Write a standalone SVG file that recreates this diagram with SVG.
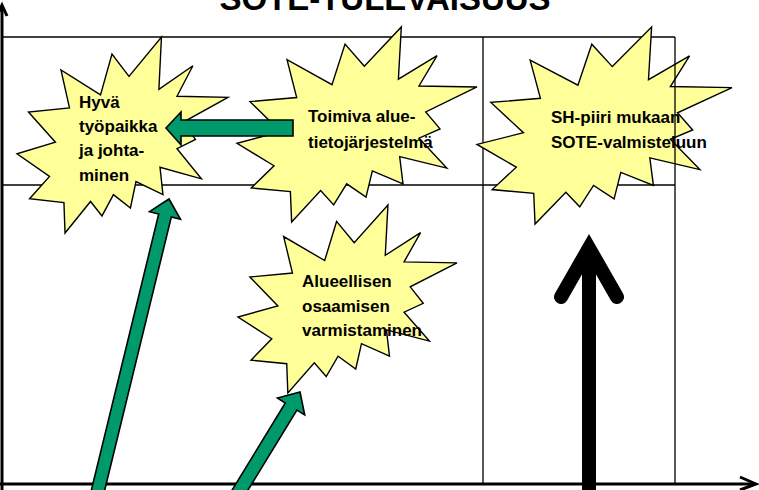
<svg xmlns="http://www.w3.org/2000/svg" xmlns:xlink="http://www.w3.org/1999/xlink" width="759" height="490" viewBox="0 0 759 490">
<style>
.grid{stroke:#000;stroke-width:1.3;fill:none}
.axis{stroke:#000;stroke-width:3;fill:none}
.sfill{fill:#FFFF99;stroke:none}
.sline{fill:none;stroke:#000;stroke-width:1.4}
.lbl{font-family:"Liberation Sans",Arial,sans-serif;font-weight:bold;font-size:17px;fill:#000}
.title{font-family:"Liberation Sans",Arial,sans-serif;font-weight:bold;font-size:33px;fill:#000}
.garrow{fill:#00996B;stroke:#000;stroke-width:1.6;stroke-linejoin:miter}
</style>
<defs>
<path id="seal" vector-effect="non-scaling-stroke" d="M11462,4342 L9722,1887 8550,6382 4502,3625 5372,7817 1172,8270 3935,11592 0,12877 3330,15370 1285,17825 4805,18240 4917,21600 7527,18125 8700,19712 9872,17370 11612,18842 12180,15935 14942,17370 14640,14350 18877,15632 16380,12310 18270,11290 16985,9402 21600,6645 16380,6532 18007,3172 14525,5777 14790,0 Z"/>
</defs>
<rect width="759" height="490" fill="#fff"/>
<text class="title" x="385" y="10" text-anchor="middle">SOTE-TULEVAISUUS</text>
<g id="grid">
<line class="grid" x1="2" y1="37" x2="675" y2="37"/>
<line class="grid" x1="2" y1="185" x2="675" y2="185"/>
<line class="grid" x1="483" y1="37" x2="483" y2="484"/>
</g>
<g id="axes">
<line class="axis" x1="2" y1="490" x2="2" y2="6"/>
<polyline class="axis" points="-3,16 2,5 7,16"/>
<line class="axis" x1="0" y1="484" x2="755" y2="484"/>
<polyline class="axis" points="740,477 756,484 740,490"/>
</g>
<g id="node-hyva">
<use xlink:href="#seal" class="sfill" transform="translate(17,37) scale(0.0097685,0.0090741)"/>
<text class="lbl" x="79" y="108">Hyvä</text>
<text class="lbl" x="79" y="132">työpaikka</text>
<text class="lbl" x="79" y="156">ja johta-</text>
<text class="lbl" x="79" y="181">minen</text>
<use xlink:href="#seal" class="sline" transform="translate(17,37) scale(0.0097685,0.0090741)"/>
</g>
<g id="node-toimiva">
<use xlink:href="#seal" class="sfill" transform="translate(237,27) scale(0.0111111,0.0090278)"/>
<text class="lbl" x="308" y="122">Toimiva alue-</text>
<text class="lbl" x="308" y="148">tietojärjestelmä</text>
<use xlink:href="#seal" class="sline" transform="translate(237,27) scale(0.0111111,0.0090278)"/>
</g>
<g id="node-shpiiri">
<use xlink:href="#seal" class="sfill" transform="translate(477,27) scale(0.0118056,0.0091204)"/>
<text class="lbl" x="551" y="123">SH-piiri mukaan</text>
<text class="lbl" x="551" y="148">SOTE-valmisteluun</text>
<use xlink:href="#seal" class="sline" transform="translate(477,27) scale(0.0118056,0.0091204)"/>
</g>
<g id="node-alueellisen">
<use xlink:href="#seal" class="sfill" transform="translate(238,205) scale(0.0101389,0.0087037)"/>
<text class="lbl" x="302" y="287">Alueellisen</text>
<text class="lbl" x="302" y="312">osaamisen</text>
<text class="lbl" x="302" y="336">varmistaminen</text>
<use xlink:href="#seal" class="sline" transform="translate(238,205) scale(0.0101389,0.0087037)"/>
</g>
<line class="grid" x1="675" y1="37" x2="675" y2="484"/>
<g id="connectors">
<polygon class="garrow" points="166,128 181,112 181,120 293,120 293,136 181,136 181,145"/>
<polygon class="garrow" points="169,199 180.5,219.3 171.3,217 102.9,497.5 90.3,494.5 158.7,214 149.5,211.7"/>
<polygon class="garrow" points="300,392 304.7,414.9 296.9,410 241.6,500.5 230,493.5 285.3,403 277.5,398.1"/>
<g id="black-arrow" fill="none" stroke="#000" stroke-width="14">
<line x1="589" y1="495" x2="589" y2="250"/>
<polyline points="561,297 589,248 617,297" stroke-linecap="round" stroke-linejoin="miter" stroke-miterlimit="10"/>
</g>
</g>
</svg>
